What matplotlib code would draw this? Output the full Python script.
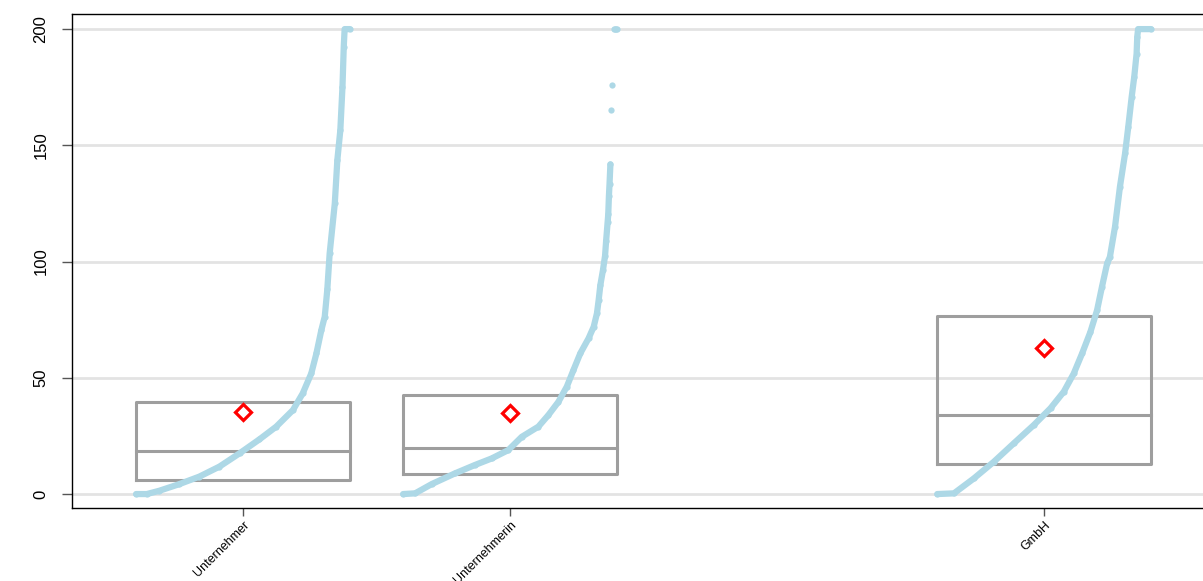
import matplotlib.pyplot as plt

plt.rcParams['font.family'] = ['Liberation Sans', 'DejaVu Sans']

# categories on the x axis (slot 3 is empty)
cats = ['Unternehmer', 'Unternehmerin', 'GmbH']
pos = [1, 2, 4]

# box stats: q1, median, q3, mean
q1 = [6.0, 8.6, 12.9]
med = [18.5, 19.8, 34.0]
q3 = [39.6, 42.6, 76.6]
mean = [35.3, 34.8, 62.8]

# sorted values, spread over the box width (rank = fraction of width)
rank_u = [0.0, 0.05, 0.108, 0.20, 0.296, 0.39, 0.484, 0.577, 0.656, 0.734, 0.78,
          0.82, 0.844, 0.867, 0.883, 0.895, 0.906, 0.93, 0.942, 0.956, 0.966,
          0.972, 0.976, 1.0]
val_u = [0, 0, 1.4, 4.2, 7.5, 11.8, 17.5, 23.5, 29, 36.1, 43.3,
         51.9, 60.5, 70.5, 76.3, 88, 103.5, 125, 143.7, 156.6, 175.2,
         192.4, 200, 200]

rank_w = [0.0, 0.056, 0.134, 0.243, 0.336, 0.414, 0.492, 0.555, 0.633, 0.68, 0.727,
          0.766, 0.797, 0.829, 0.868, 0.892, 0.907, 0.915, 0.923, 0.935, 0.945,
          0.95, 0.957, 0.96, 0.963, 0.966, 0.97]
val_w = [0, 0.3, 4.3, 8.9, 12.5, 15.3, 18.9, 24.6, 29, 34, 39.7,
         46.2, 53.3, 60.5, 67, 72, 77.7, 83.4, 89.9, 96.2, 102.5,
         108.9, 116.9, 120.3, 128, 133.5, 141.8]
# the few single points at the top of Unternehmerin
rank_w_top = [0.972, 0.978, 0.985, 0.99, 0.995, 1.0]
val_w_top = [165.3, 176, 200, 200, 200, 200]

rank_g = [0.0, 0.078, 0.171, 0.265, 0.358, 0.452, 0.53, 0.592, 0.639, 0.678, 0.717,
          0.748, 0.771, 0.795, 0.808, 0.832, 0.855, 0.879, 0.894, 0.91, 0.922,
          0.933, 0.936, 0.94, 1.0]
val_g = [0, 0.3, 6.7, 13.9, 21.8, 29.7, 36.9, 44, 51.9, 60.5, 69.8,
         79.1, 89.2, 99.2, 102, 115, 132.2, 146.5, 158, 170.9, 179.5,
         189.5, 196.7, 200, 200]

yticks = [0, 50, 100, 150, 200]

fig = plt.figure(figsize=(12.03, 5.81), dpi=100)
ax = fig.add_axes([72/1203, (581-508)/581, (1203-72)/1203, (508-14)/581])

ptcol = '#add8e6'
boxcol = '#9e9e9e'
w = 0.8

for y in yticks:
    ax.axhline(y, color='#e3e3e3', lw=2, zorder=0)

for i in range(3):
    x0 = pos[i] - w/2
    ax.plot([x0, x0+w, x0+w, x0, x0], [q1[i], q1[i], q3[i], q3[i], q1[i]],
            color=boxcol, lw=2.2, zorder=2)
    ax.plot([x0, x0+w], [med[i], med[i]], color=boxcol, lw=2.2, zorder=2)

curves = [(rank_u, val_u), (rank_w, val_w), (rank_g, val_g)]
for i, (r, v) in enumerate(curves):
    xs = [pos[i] - w/2 + f*w for f in r]
    ax.plot(xs, v, color=ptcol, lw=4.5, marker='o', ms=4.5, mec='none',
            solid_capstyle='round', solid_joinstyle='round', zorder=3)
xs = [pos[1] - w/2 + f*w for f in rank_w_top]
ax.plot(xs, val_w_top, 'o', color=ptcol, ms=4.5, mec='none', zorder=3)

ax.plot(pos, mean, 'D', mfc='none', mec='red', mew=2.3, ms=8.5, ls='none', zorder=4)

ax.set_xlim(0.36, 4.595)
ax.set_ylim(-6, 206.5)
ax.set_yticks(yticks)
ax.set_yticklabels([str(y) for y in yticks], rotation=90, va='center', fontsize=12)
ax.set_xticks(pos)
ax.set_xticklabels(cats, rotation=45, ha='right', rotation_mode='anchor', fontsize=9)
ax.tick_params(axis='y', length=7, width=1, color='#555555', pad=10)
ax.tick_params(axis='x', length=6, width=1, color='#555555', pad=2)
ax.spines['right'].set_visible(False)
for s in ['left', 'top', 'bottom']:
    ax.spines[s].set_linewidth(1)

fig.savefig('out.png', dpi=100)
